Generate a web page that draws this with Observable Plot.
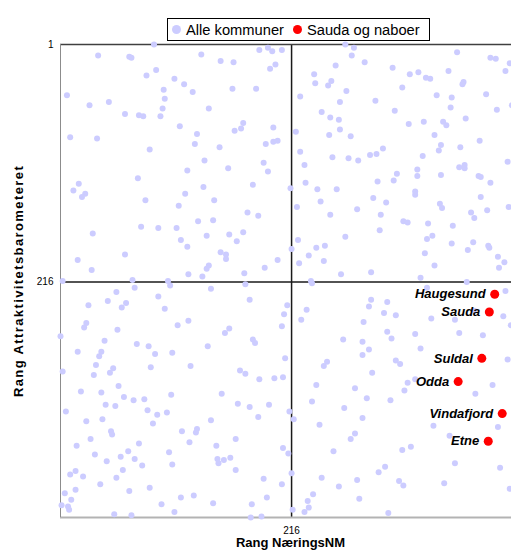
<!DOCTYPE html>
<html>
<head>
<meta charset="utf-8">
<script src="https://cdn.jsdelivr.net/npm/d3@7"></script>
<script src="https://cdn.jsdelivr.net/npm/@observablehq/plot@0.6"></script>
<style>
html, body { margin: 0; padding: 0; background: #fff; overflow: hidden; }
#wrap { position: relative; width: 511px; height: 550px; overflow: hidden; font-family: "Liberation Sans", Arial, sans-serif; }
#legend { position: absolute; left: 167px; top: 18px; width: 261px; height: 21px; border: 1px solid #000; background: #fff;
  display: flex; align-items: center; font-size: 14.7px; color: #000; z-index: 2; white-space: nowrap; }
#legend .dot { width: 9px; height: 9px; border-radius: 50%; flex: none; }
#wrap svg { position: absolute; left: 0; top: 0; max-width: none !important; }
</style>
</head>
<body>
<div id="wrap"><div id="legend"></div></div>
<script>
// Legend
const seriesNames = ["Alle kommuner", "Sauda og naboer"];
const seriesColors = ["#ccccff", "#ff0000"];

// Axis ticks
const xTicks = [216];
const yTicks = [1, 216];
const rankDomain = [1, 429];
const midRank = 216;

// Alle kommuner: [Rang NæringsNM, Rang Attraktivitetsbarometeret]
const alleKommuner = [
[88,1],[36,11],[65,12],[67,13],[132,10],[90,24],[81,29],[107,32],[116,37],[124,44],[97,42],[7,47],[98,50],[28,56],[46,53],[96,59],[139,59],[61,64],[74,65],[78,66],[94,66],[112,75],[10,85],[35,86],[128,82],[126,91],[84,96],[135,106],
[186,6],[194,4],[198,7],[207,6],[266,1],[274,4],[272,11],[150,16],[162,17],[201,19],[196,23],[257,20],[237,28],[253,34],[238,36],[250,38],[161,41],[183,41],[267,43],[224,48],[261,53],[244,62],[252,67],[260,69],[171,72],[163,79],[169,77],[199,76],[220,80],[261,78],[251,83],[271,84],[192,91],[199,89],[203,88],[149,94],[224,98],[254,103],[269,104],[278,106],[190,108],
[370,8],[401,13],[406,14],[419,18],[284,17],[310,22],[326,28],[334,26],[341,31],[345,32],[362,25],[415,25],[376,35],[375,37],[319,40],[294,52],[351,47],[365,49],[397,46],[364,58],[312,61],[407,60],[421,56],[325,73],[339,71],[357,71],[360,74],[378,68],[349,83],[355,92],[353,97],[373,94],[391,88],[289,101],[295,100],[301,95],[338,102],[417,107],
[119,115],[73,122],[18,127],[13,133],[24,136],[21,139],[134,130],[117,136],[80,142],[111,147],[129,161],[31,172],[76,166],[92,167],[109,167],[113,178],[119,184],[61,191],[17,196],[30,205],[120,209],[133,211],[3,215],[68,214],[101,215],
[228,110],[157,113],[194,116],[180,128],[215,131],[229,126],[240,132],[258,132],[144,142],[243,143],[221,148],[277,150],[175,153],[185,156],[252,155],[143,160],[137,174],[158,173],[171,171],[165,179],[266,175],[222,178],[150,189],[155,191],[155,195],[216,186],[239,185],[247,183],[232,192],[246,197],[223,199],[203,196],[191,203],[139,201],[137,204],[172,208],[262,209],[234,215],[235,217],[173,218],
[372,112],[377,110],[377,113],[333,114],[314,118],[311,124],[333,120],[355,119],[296,125],[390,120],[392,121],[401,126],[331,134],[331,137],[292,140],[304,144],[354,145],[356,149],[392,139],[383,153],[386,158],[398,151],[418,148],[299,155],[320,161],[324,162],[343,163],[366,165],[298,169],[347,174],[342,177],[365,181],[385,180],[380,187],[399,183],[400,185],[340,190],[408,193],[414,198],[409,203],[349,201],[290,207],[336,212],[379,216],
[103,219],[70,221],[53,225],[92,229],[45,233],[62,235],[58,239],[27,237],[98,240],[25,253],[23,257],[54,259],[120,251],[110,255],[1,265],[42,269],[72,272],[83,274],[17,279],[39,279],[37,283],[89,281],[105,280],[34,291],[85,293],[122,292],[50,294],[47,298],[3,297],[32,300],[55,310],[20,315],[39,316],[104,318],[60,320],[69,323],[79,322],
[141,222],[177,232],[212,237],[209,245],[207,256],[230,241],[225,250],[154,262],[158,258],[180,268],[182,271],[138,274],[264,268],[210,285],[249,288],[246,292],[168,296],[173,299],[186,304],[200,303],[208,302],[239,309],[275,312],[151,317],
[342,221],[415,224],[290,232],[305,234],[288,238],[302,244],[313,246],[346,249],[368,250],[386,242],[413,247],[420,255],[283,252],[305,261],[309,267],[331,263],[372,262],[394,264],[282,270],[288,277],[282,282],[336,276],[417,286],[313,287],[317,290],[291,298],[331,304],[324,307],[321,314],[403,309],[387,317],[286,321],[308,323],
[43,327],[52,328],[6,333],[25,342],[40,340],[82,332],[91,336],[100,334],[87,344],[48,351],[49,354],[29,358],[16,364],[114,351],[128,349],[127,352],[121,361],[74,362],[33,372],[64,369],[57,374],[70,376],[44,378],[102,370],[105,381],[77,382],[59,386],[15,387],[10,390],[22,392],[53,393],[38,399],[84,402],[15,404],[5,407],[65,405],[11,413],[113,411],[125,409],[2,418],[8,419],[9,422],[95,417],[107,424],[51,426],[67,427],
[166,326],[177,329],[195,327],[235,324],[265,330],[141,341],[185,338],[214,333],[218,340],[242,345],[164,358],[146,364],[208,366],[213,371],[275,353],[271,358],[255,369],[147,376],[153,377],[159,375],[148,380],[164,386],[216,389],[190,394],[207,399],[244,393],[277,395],[260,401],[193,411],[236,408],[231,414],[232,420],[228,424],[143,416],[179,417],[217,422],[279,412],[178,429],[188,428],[282,339],
[348,346],[363,355],[408,347],[319,368],[327,365],[368,380],[410,384],[303,383],[297,388],[316,396],[320,400],[358,398],[419,403],[306,425]
];

// Sauda og naboer
const naboNavn = ["Haugesund", "Sauda", "Suldal", "Odda", "Vindafjord", "Etne"];
const naboX = [405, 400, 393, 371, 412, 399];
const naboY = [227, 243, 285, 306, 335, 360];
const naboer = naboNavn.map((navn, i) => ({navn, x: naboX[i], y: naboY[i]}));

// Legend (HTML)
const legend = document.getElementById("legend");
const leftGaps = [4, 9];
seriesNames.forEach((name, i) => {
  const dot = document.createElement("span");
  dot.className = "dot";
  dot.style.background = seriesColors[i];
  dot.style.marginLeft = leftGaps[i] + "px";
  const label = document.createElement("span");
  label.textContent = name;
  label.style.marginLeft = "5px";
  legend.appendChild(dot);
  legend.appendChild(label);
});

const chart = Plot.plot({
  width: 520,
  height: 550,
  marginLeft: 60,
  marginRight: 0,
  marginTop: 44,
  marginBottom: 33,
  style: {fontFamily: '"Liberation Sans", Arial, sans-serif', background: "transparent", color: "#000"},
  x: {domain: rankDomain},
  y: {domain: rankDomain, reverse: true},
  marks: [
    Plot.ruleX([midRank], {stroke: "#1a1a1a", strokeWidth: 1.5}),
    Plot.ruleY([midRank], {stroke: "#1a1a1a", strokeWidth: 1.5}),
    Plot.ruleY([rankDomain[0]], {stroke: "#404040", strokeWidth: 1.5}),
    Plot.ruleY([rankDomain[1]], {stroke: "#b3b3b3", strokeWidth: 2}),
    Plot.ruleX([rankDomain[0]], {stroke: "#8c8c8c", strokeWidth: 1}),
    Plot.dot(alleKommuner, {x: d => d[0], y: d => d[1], r: 3, fill: seriesColors[0]}),
    Plot.dot(naboer, {x: "x", y: "y", r: 4.5, fill: seriesColors[1]}),
    Plot.text(naboer, {x: "x", y: "y", text: "navn", textAnchor: "end", dx: -9, fontSize: 13, fontWeight: "bold", fontStyle: "italic", fill: "#000"}),
    Plot.axisX(xTicks, {tickSize: 0, tickPadding: 9, fontSize: 10, label: null}),
    Plot.axisY(yTicks, {tickSize: 0, tickPadding: 7, fontSize: 10, label: null}),
    Plot.text(["Rang NæringsNM"], {text: d => d, frameAnchor: "bottom", textAnchor: "middle", lineAnchor: "middle", dy: 25, fontSize: 13, fontWeight: "bold", fill: "#000"}),
    Plot.text(["Rang Attraktivitetsbarometeret"], {text: d => d, frameAnchor: "left", textAnchor: "middle", lineAnchor: "middle", dx: -42, rotate: -90, fontSize: 13, fontWeight: "bold", fill: "#000", className: "ylabel"})
  ]
});
chart.style.maxWidth = "none";
chart.querySelectorAll(".ylabel text").forEach(t => t.style.letterSpacing = "1.4px");
document.getElementById("wrap").appendChild(chart);
</script>
</body>
</html>
